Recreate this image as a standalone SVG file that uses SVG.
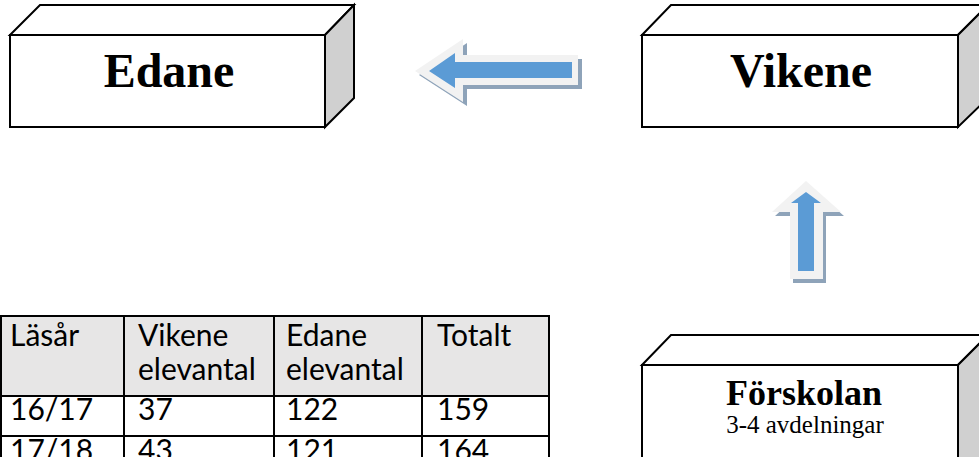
<svg xmlns="http://www.w3.org/2000/svg" width="979" height="457" viewBox="0 0 979 457">
<style>
.face{fill:#ffffff;stroke:#000;stroke-width:2;stroke-linejoin:miter}
.side{fill:#d0d0d0;stroke:#000;stroke-width:2}
.title{font-family:"Liberation Serif","Times New Roman",serif;font-weight:bold;fill:#000}
.sub{font-family:"Liberation Serif","Times New Roman",serif;fill:#000}
.cell{font-family:Lato,"Open Sans",sans-serif;font-size:30px;fill:#000}
.grid{stroke:#000;stroke-width:2;fill:none}
.shadow{fill:#8ea3b9}
.outer{fill:#f2f2f2}
.inner{fill:#5b9bd5}
</style>
<rect width="979" height="457" fill="#fff"/>
<g id="edane">
<polygon class="face" points="10,35 40,5 354,5 325,35"/>
<polygon class="side" points="325,35 354,5 354,98 325,127"/>
<rect class="face" x="10" y="35" width="315" height="92"/>
<text class="title" x="169" y="87" font-size="48" text-anchor="middle">Edane</text>
</g>
<g id="vikene">
<polygon class="face" points="642,35 671,5 988,5 958,35"/>
<polygon class="side" points="958,35 988,5 988,98 958,127"/>
<rect class="face" x="642" y="35" width="316" height="92"/>
<text class="title" x="801" y="87" font-size="48" text-anchor="middle">Vikene</text>
</g>
<g id="forskolan">
<polygon class="face" points="642,365 671,335 988,335 958,365"/>
<polygon class="side" points="958,365 988,335 988,470 958,470"/>
<rect class="face" x="642" y="365" width="316" height="110"/>
<text class="title" x="804" y="405" font-size="36" text-anchor="middle">Förskolan</text>
<text class="sub" x="805" y="433" font-size="25" text-anchor="middle">3-4 avdelningar</text>
</g>
<g id="connectors">
<g id="arrow-left">
<polygon class="shadow" transform="translate(4,4)" points="415,71 463,39 463,55 578,55 578,85 463,85 463,102"/>
<polygon class="outer" points="415,71 463,39 463,55 578,55 578,85 463,85 463,102"/>
<polygon class="inner" points="429,71 455,53 455,62 572,62 572,78 455,78 455,88"/>
</g>
<g id="arrow-up">
<polygon class="shadow" transform="translate(3,4)" points="806,181 841,212 823,212 823,279 790,279 790,212 772,212"/>
<polygon class="outer" points="806,181 841,212 823,212 823,279 790,279 790,212 772,212"/>
<polygon class="inner" points="806,192 821,203 814,203 814,271 798,271 798,203 791,203"/>
</g>
</g>
<g id="table">
<rect x="1" y="316" width="548" height="80" fill="#e7e6e6"/>
<line class="grid" x1="1" y1="316" x2="549" y2="316"/>
<line class="grid" x1="1" y1="396" x2="549" y2="396"/>
<line class="grid" x1="1" y1="436" x2="549" y2="436"/>
<line class="grid" x1="1" y1="315" x2="1" y2="457"/>
<line class="grid" x1="124" y1="315" x2="124" y2="457"/>
<line class="grid" x1="274" y1="315" x2="274" y2="457"/>
<line class="grid" x1="422" y1="315" x2="422" y2="457"/>
<line class="grid" x1="549" y1="315" x2="549" y2="457"/>
<text class="cell" x="10" y="346">Läsår</text>
<text class="cell" x="138" y="346">Vikene</text>
<text class="cell" x="138" y="380">elevantal</text>
<text class="cell" x="286" y="346">Edane</text>
<text class="cell" x="286" y="380">elevantal</text>
<text class="cell" x="437" y="346">Totalt</text>
<text class="cell" x="10" y="420">16/17</text>
<text class="cell" x="138" y="420">37</text>
<text class="cell" x="286" y="420">122</text>
<text class="cell" x="437" y="420">159</text>
<text class="cell" x="10" y="461">17/18</text>
<text class="cell" x="138" y="461">43</text>
<text class="cell" x="286" y="461">121</text>
<text class="cell" x="437" y="461">164</text>
</g>
</svg>
